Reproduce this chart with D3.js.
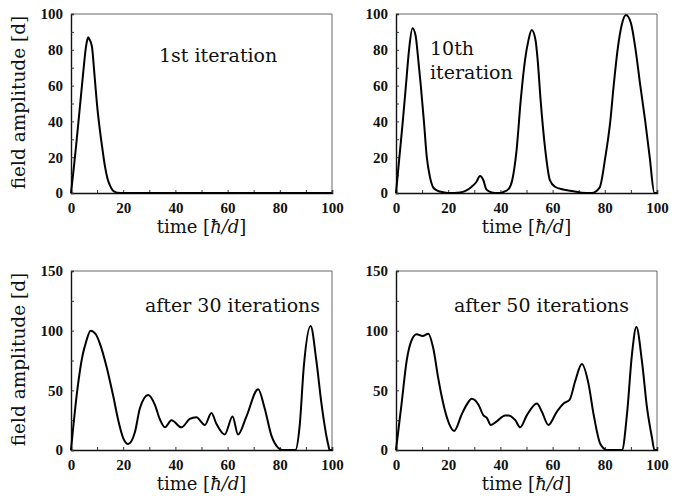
<!DOCTYPE html>
<html><head><meta charset="utf-8">
<script src="https://cdn.jsdelivr.net/npm/d3@7"></script>
<style>
body{margin:0;background:#fff;}
svg{display:block;}
text{fill:#111;}
</style></head>
<body><svg id="c" width="694" height="503"></svg>
<script>
// ---- data ----
const xTicks = [0, 20, 40, 60, 80, 100];
const yTicksTop = [0, 20, 40, 60, 80, 100];
const yTicksBottom = [0, 50, 100, 150];

const t1 = [0,1,2,3,4,5,5.5,6,6.6,7,8,9,10,11,12,13,14,15,16,17,18,20,100];
const a1 = [0,13,27,42,57,72,79,84,87,86,82,66,49,36,25,15,8,4,1.5,0.5,0.1,0,0];

const t2 = [0,1.3,2.6,3.8,5,6.3,7.5,8.5,9.5,10.7,11.8,13,14.3,16,18,20,24.5,27,29,30.7,32.2,33.5,34.6,36.7,39,41,43,44.5,46.2,47.8,49.4,50.7,52,53.5,54.3,55.4,57.2,59,60.9,64,68,71,75,78,80.2,82.1,83.4,84.9,86.5,88.1,90,91.8,93.6,95.5,97.2,99,100];
const a2 = [0,20,40,60,80,92,88,75,60,40,20,9,3,1.2,0.4,0,0.3,1.5,3.5,6,9.5,7,2,0.3,0,0.5,2,7,24,52,74,85,91,85,74,52,24,7,3.5,2,1,0.2,0,3,20,40,60,80,94,99.4,95,80,60,40,20,0,0];

const t3 = [0,2.4,4.5,5.7,7.5,9.5,11.1,13.6,16.2,18.1,20,21.9,24.5,26.4,29.6,32.1,34,36,38.5,42.3,45.5,48,51.3,53.8,55.7,58.9,61.9,64,67.2,71.7,74.2,76.8,79.3,81,86,87.6,89.2,91.8,94,95.9,98.5,99.1,100];
const a3 = [0,50,80,90,100,97,89,70,45,25,10,5,15,35,46,38,26,19,25,19,26,27.5,21,31,22,13,28,13,28,51,35,12,2,0,0,20,70,104,75,40,5,0,0];

const t4 = [0,2.2,4.1,6,7.9,10.2,12.4,14.3,16.2,17.5,19.4,22.3,25.2,27.1,29,31.6,33.5,34.8,36.3,38.6,41.8,43.1,45.7,47.6,50.1,54,55.9,58.4,61.6,64.2,66.5,68.7,71.2,73.8,75.7,78.3,80.8,86.6,88.5,90.4,92.1,94.2,96.2,98.1,99,100];
const a4 = [0,40,75,92,97,95.5,97.5,85,60,45,28,16,30,38,43,38,29,27,21,24,29,29,25,19,29,39,32,21,32,39,42,58,72,55,30,5,0,0,30,80,103,75,35,10,0,0];

const labels = ["1st iteration", "10th", "iteration", "after 30 iterations", "after 50 iterations"];

// ---- layout ----
const SERIF = "'DejaVu Serif', serif";
const TICKF = "'Liberation Serif', 'Times New Roman', serif";
const svg = d3.select("#c");
const panels = [
  {t:t1, a:a1, x0:71, x1:332, y0:193, y1:14, ymax:100, yt:yTicksTop, ystep:10, ylabel:true},
  {t:t2, a:a2, x0:396, x1:657, y0:193, y1:14, ymax:100, yt:yTicksTop, ystep:10, ylabel:false},
  {t:t3, a:a3, x0:71, x1:332, y0:450, y1:271, ymax:150, yt:yTicksBottom, ystep:25, ylabel:true},
  {t:t4, a:a4, x0:396, x1:657, y0:450, y1:271, ymax:150, yt:yTicksBottom, ystep:25, ylabel:false}
];

panels.forEach((p, i) => {
  const x = d3.scaleLinear().domain([0,100]).range([p.x0, p.x1]);
  const y = d3.scaleLinear().domain([0,p.ymax]).range([p.y0, p.y1]);
  const g = svg.append("g");

  g.append("line").attr("x1",p.x0).attr("x2",p.x1).attr("y1",p.y1).attr("y2",p.y1).attr("stroke","#666").attr("stroke-width",1);
  g.append("line").attr("x1",p.x1).attr("x2",p.x1).attr("y1",p.y1).attr("y2",p.y0).attr("stroke","#666").attr("stroke-width",1);

  const xMinor = d3.range(0, 101, 10);
  const yMinor = d3.range(0, p.ymax + 0.1, p.ystep);
  const xa = d3.axisBottom(x).tickValues(xMinor).tickSize(-3)
    .tickFormat(d => xTicks.includes(d) ? d : "");
  const xg = g.append("g").attr("transform", `translate(0,${p.y0})`).call(xa);
  xg.select(".domain").attr("stroke","#111").attr("stroke-width",1.6);
  xg.selectAll(".tick line").attr("stroke","#333");
  xg.selectAll("text").attr("font-size",15).attr("font-weight","bold").attr("font-family",TICKF)
    .attr("fill","#111").attr("y",20).attr("dy",0);

  const ya = d3.axisLeft(y).tickValues(yMinor).tickSize(-3).tickPadding(8)
    .tickFormat(d => p.yt.includes(d) ? d : "");
  const yg = g.append("g").attr("transform", `translate(${p.x0},0)`).call(ya);
  yg.select(".domain").attr("stroke","#111").attr("stroke-width",1.4);
  yg.selectAll(".tick line").attr("stroke","#333");
  yg.selectAll("text").attr("font-size",15).attr("font-weight","bold").attr("font-family",TICKF).attr("fill","#111");

  const line = d3.line().x((d,k) => x(p.t[k])).y((d,k) => y(p.a[k])).curve(d3.curveMonotoneX);
  g.append("path").datum(p.a).attr("d", line).attr("fill","none").attr("stroke","#000").attr("stroke-width",2).attr("stroke-linejoin","round");

  const xt = g.append("text").attr("x", (p.x0+p.x1)/2).attr("y", p.y0 + 40).attr("text-anchor","middle")
    .attr("font-size",18).attr("font-family",SERIF);
  xt.append("tspan").text("time [");
  xt.append("tspan").attr("font-style","italic").text("ħ/d");
  xt.append("tspan").text("]");

  if (p.ylabel) {
    svg.append("text").attr("transform", `translate(25,${(p.y0+p.y1)/2 - 1}) rotate(-90)`)
      .attr("text-anchor","middle").attr("font-size",18.5).attr("font-family",SERIF).text("field amplitude [d]");
  }
});

const ann = [
  {s:labels[0], x:159, y:62},
  {s:labels[1], x:430, y:55},
  {s:labels[2], x:430, y:79},
  {s:labels[3], x:145, y:312},
  {s:labels[4], x:454, y:312}
];
svg.selectAll("text.ann").data(ann).enter().append("text").attr("class","ann")
  .attr("x", d => d.x).attr("y", d => d.y).attr("font-size",19).attr("font-family",SERIF).text(d => d.s);
</script></body></html>
